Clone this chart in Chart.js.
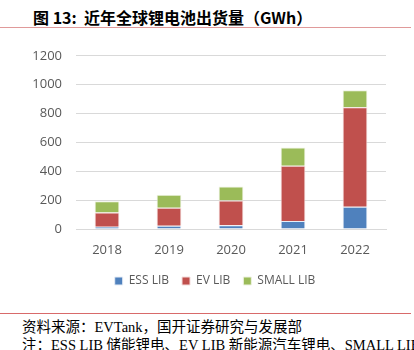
<!DOCTYPE html>
<html>
<head>
<meta charset="utf-8">
<script src="https://cdn.jsdelivr.net/npm/chart.js@4/dist/chart.umd.min.js"></script>
<style>
  html, body { margin: 0; padding: 0; background: #fff; }
  #wrap { position: relative; width: 414px; height: 350px; overflow: hidden; }
  #title { position: absolute; left: 33px; top: 5px; font: bold 16px "Noto Sans CJK SC", sans-serif; color: #000; white-space: nowrap; }
  #topline { position: absolute; left: 0; top: 27px; width: 411px; height: 1px; background: #e09a9a; }
  #botline { position: absolute; left: 0; top: 313px; width: 411px; height: 1px; background: #d86a6a; }
  .src { position: absolute; left: 22px; font: 14.5px "Liberation Serif", "Noto Sans CJK SC", serif; color: #000; white-space: nowrap; }
  #chartBox { position: absolute; left: 0; top: 34px; width: 414px; height: 266px; }
</style>
</head>
<body>
<div id="wrap">
  <div id="title">图 13:&nbsp; 近年全球锂电池出货量（GWh）</div>
  <div id="topline"></div>
  <div id="chartBox"><canvas id="batteryChart" width="414" height="266"></canvas></div>
  <div id="botline"></div>
  <div class="src" style="top:315px">资料来源：EVTank，国开证券研究与发展部</div>
  <div class="src" style="top:333px">注：ESS LIB 储能锂电、EV LIB 新能源汽车锂电、SMALL LIB</div>
</div>
<script>
const years = ["2018", "2019", "2020", "2021", "2022"];
const essLib = [16, 23, 26, 56, 155];
const evLib = [99, 125, 171, 383, 688];
const smallLib = [78, 89, 98, 125, 119];
const yTicks = [0, 200, 400, 600, 800, 1000, 1200];

const ctx = document.getElementById("batteryChart").getContext("2d");

// nudge the legend a bit to the right, like the original
const legendShift = {
    id: "legendShift",
    afterLayout(chart) {
        chart.legend.left += 22;
        chart.legend.right += 22;
    }
};

window.batteryChart = new Chart(ctx, {
    type: "bar",
    data: {
        labels: years,
        datasets: [
            { label: "ESS LIB", data: essLib, backgroundColor: "#4f81bd", borderColor: "#e8eef7", borderWidth: 1 },
            { label: "EV LIB", data: evLib, backgroundColor: "#c0504d", borderColor: "#f4dddc", borderWidth: 1 },
            { label: "SMALL LIB", data: smallLib, backgroundColor: "#9bbb59", borderColor: "#eef3e2", borderWidth: 1 }
        ]
    },
    options: {
        responsive: false,
        animation: false,
        layout: { padding: { left: 0, right: 28, top: 5, bottom: 3 } },
        datasets: { bar: { barPercentage: 0.4, categoryPercentage: 1.0 } },
        plugins: {
            legend: {
                position: "bottom",
                labels: {
                    boxWidth: 8, boxHeight: 8, padding: 13,
                    color: "#595959",
                    font: { family: "Open Sans", size: 12 }
                }
            },
            tooltip: { enabled: false }
        },
        scales: {
            x: {
                stacked: true,
                grid: { display: false },
                border: { color: "#d9d9d9" },
                ticks: { color: "#595959", font: { family: "Open Sans", size: 13 }, padding: 5 },
                afterFit: (axis) => { axis.height = 33; }
            },
            y: {
                stacked: true,
                min: 0,
                max: 1200,
                afterBuildTicks: (axis) => { axis.ticks = yTicks.map(v => ({ value: v })); },
                grid: { color: "#d9d9d9", drawTicks: false },
                border: { display: false },
                ticks: { color: "#595959", font: { family: "Open Sans", size: 13 }, padding: 14, callback: (v) => String(v) },
                afterFit: (axis) => { axis.width = 76; }
            }
        }
    },
    plugins: [legendShift]
});
</script>
</body>
</html>
